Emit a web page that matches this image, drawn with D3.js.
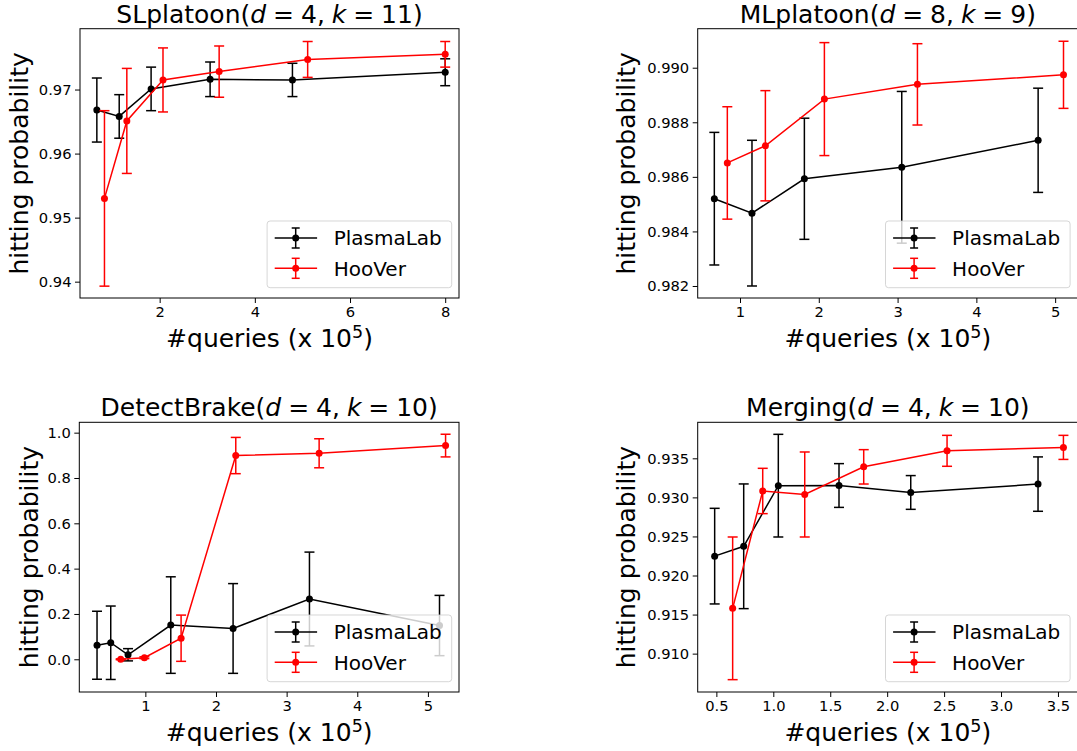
<!DOCTYPE html>
<html>
<head>
<meta charset="utf-8">
<script src="https://cdn.jsdelivr.net/npm/d3@7"></script>
<style>
  body { margin: 0; background: #fff; }
  svg { display: block; font-family: "DejaVu Sans", sans-serif; }
</style>
</head>
<body>
<svg id="chart" width="1077" height="751"></svg>
<script>
// series names / colours
const seriesNames = ['PlasmaLab', 'HooVer'];
const seriesColors = ['#000000', '#ff0000'];

// SLplatoon (d=4, k=11)
const slPlasmaQ = [0.68, 1.15, 1.82, 3.06, 4.79, 8.0];
const slPlasmaP = [0.9668, 0.9658, 0.9701, 0.9716, 0.9715, 0.9727];
const slPlasmaE = [0.0050, 0.0034, 0.0034, 0.0027, 0.0026, 0.0021];
const slHooQ = [0.84, 1.31, 2.07, 3.25, 5.11, 8.0];
const slHooP = [0.9530, 0.9651, 0.9715, 0.9728, 0.9747, 0.9755];
const slHooE = [0.0137, 0.0082, 0.0050, 0.0040, 0.0028, 0.0020];
const slXTicks = [2, 4, 6, 8];
const slYTicks = [0.94, 0.95, 0.96, 0.97];

// MLplatoon (d=8, k=9)
const mlPlasmaQ = [0.674, 1.152, 1.817, 3.053, 4.784];
const mlPlasmaP = [0.98520, 0.98467, 0.98593, 0.98635, 0.98734];
const mlPlasmaE = [0.00243, 0.00267, 0.00222, 0.00278, 0.00191];
const mlHooQ = [0.839, 1.322, 2.071, 3.252, 5.106];
const mlHooP = [0.98651, 0.98714, 0.98885, 0.98939, 0.98974];
const mlHooE = [0.00206, 0.00202, 0.00207, 0.00149, 0.00123];
const mlXTicks = [1, 2, 3, 4, 5];
const mlYTicks = [0.982, 0.984, 0.986, 0.988, 0.990];

// DetectBrake (d=4, k=10)
const dbPlasmaQ = [0.316, 0.510, 0.755, 1.36, 2.242, 3.323, 5.164];
const dbPlasmaP = [0.062, 0.073, 0.020, 0.151, 0.136, 0.266, 0.149];
const dbPlasmaE = [0.150, 0.162, 0.027, 0.213, 0.198, 0.207, 0.133];
const dbHooQ = [0.651, 0.986, 1.506, 2.28, 3.46, 5.25];
const dbHooP = [0.0, 0.007, 0.093, 0.899, 0.909, 0.943];
const dbHooE = [0.002, 0.004, 0.102, 0.080, 0.064, 0.050];
const dbXTicks = [1, 2, 3, 4, 5];
const dbYTicks = [0.0, 0.2, 0.4, 0.6, 0.8, 1.0];

// Merging (d=4, k=10)
const mgPlasmaQ = [0.485, 0.740, 1.044, 1.577, 2.207, 3.325];
const mgPlasmaP = [0.92248, 0.92374, 0.93150, 0.93152, 0.93063, 0.93170];
const mgPlasmaE = [0.00612, 0.00798, 0.00657, 0.00280, 0.00216, 0.00348];
const mgHooQ = [0.643, 0.907, 1.276, 1.794, 2.526, 3.548];
const mgHooP = [0.91580, 0.93082, 0.93037, 0.93391, 0.93596, 0.93640];
const mgHooE = [0.00913, 0.00290, 0.00544, 0.00220, 0.00198, 0.00154];
const mgXTicks = [0.5, 1.0, 1.5, 2.0, 2.5, 3.0, 3.5];
const mgYTicks = [0.910, 0.915, 0.920, 0.925, 0.930, 0.935];

const panels = [
  { name: 'SLplatoon', d: 4, k: 11, box: [80, 28.7, 459, 298],
    xDomain: [0.326, 8.29], yDomain: [0.93745, 0.9795],
    xTicks: slXTicks, yTicks: slYTicks, xFmt: 'd', yFmt: '.2f', ylabelOff: 52,
    series: [[slPlasmaQ, slPlasmaP, slPlasmaE], [slHooQ, slHooP, slHooE]] },
  { name: 'MLplatoon', d: 8, k: 9, box: [697.7, 28.7, 1078, 298],
    xDomain: [0.463, 5.29], yDomain: [0.98156, 0.99143],
    xTicks: mlXTicks, yTicks: mlYTicks, xFmt: 'd', yFmt: '.3f', ylabelOff: 62.5,
    series: [[mlPlasmaQ, mlPlasmaP, mlPlasmaE], [mlHooQ, mlHooP, mlHooE]] },
  { name: 'DetectBrake', d: 4, k: 10, box: [79.3, 422.3, 459, 692],
    xDomain: [0.065, 5.44], yDomain: [-0.1443, 1.0457],
    xTicks: dbXTicks, yTicks: dbYTicks, xFmt: 'd', yFmt: '.1f', ylabelOff: 41.5,
    series: [[dbPlasmaQ, dbPlasmaP, dbPlasmaE], [dbHooQ, dbHooP, dbHooE]] },
  { name: 'Merging', d: 4, k: 10, box: [697.7, 422.3, 1078, 692],
    xDomain: [0.336, 3.676], yDomain: [0.90509, 0.93961],
    xTicks: mgXTicks, yTicks: mgYTicks, xFmt: '.1f', yFmt: '.3f', ylabelOff: 62.5,
    series: [[mgPlasmaQ, mgPlasmaP, mgPlasmaE], [mgHooQ, mgHooP, mgHooE]] }
];

const svg = d3.select('#chart');
const tickFont = 14.7;
const labelFont = 25;
const capHalf = 5;

function drawPanel(p) {
  const [x0, y0, x1, y1] = p.box;
  const x = d3.scaleLinear().domain(p.xDomain).range([x0, x1]);
  const y = d3.scaleLinear().domain(p.yDomain).range([y1, y0]);
  const g = svg.append('g');

  // Axes
  const xAxis = g.append('g')
    .attr('transform', `translate(0,${y1})`)
    .call(d3.axisBottom(x).tickValues(p.xTicks).tickFormat(d3.format(p.xFmt))
      .tickSize(5).tickPadding(3.6));
  const yAxis = g.append('g')
    .attr('transform', `translate(${x0},0)`)
    .call(d3.axisLeft(y).tickValues(p.yTicks).tickFormat(d3.format(p.yFmt))
      .tickSize(5).tickPadding(3.5));
  [xAxis, yAxis].forEach(a => {
    a.select('.domain').remove();
    a.attr('font-family', null).attr('font-size', null);
    a.selectAll('text').style('font-size', tickFont + 'px').attr('fill', '#000');
    a.selectAll('line').attr('stroke', '#000').attr('stroke-width', 1);
  });

  // Spines
  g.append('rect')
    .attr('x', x0).attr('y', y0)
    .attr('width', x1 - x0).attr('height', y1 - y0)
    .attr('fill', 'none').attr('stroke', '#000').attr('stroke-width', 1);

  // Series with error bars
  p.series.forEach((s, i) => {
    const color = seriesColors[i];
    const pts = s[0].map((q, j) => ({ q: q, v: s[1][j], e: s[2][j] }));
    const sg = g.append('g');

    sg.selectAll('.bar').data(pts).enter().append('line')
      .attr('x1', d => x(d.q)).attr('x2', d => x(d.q))
      .attr('y1', d => y(d.v - d.e)).attr('y2', d => y(d.v + d.e))
      .attr('stroke', color).attr('stroke-width', 1.5);

    ['lo', 'hi'].forEach(side => {
      sg.selectAll('.cap-' + side).data(pts).enter().append('line')
        .attr('x1', d => x(d.q) - capHalf).attr('x2', d => x(d.q) + capHalf)
        .attr('y1', d => y(side === 'lo' ? d.v - d.e : d.v + d.e))
        .attr('y2', d => y(side === 'lo' ? d.v - d.e : d.v + d.e))
        .attr('stroke', color).attr('stroke-width', 1.5);
    });

    sg.append('path').datum(pts)
      .attr('d', d3.line().x(d => x(d.q)).y(d => y(d.v)))
      .attr('fill', 'none').attr('stroke', color).attr('stroke-width', 1.5);

    sg.selectAll('circle').data(pts).enter().append('circle')
      .attr('cx', d => x(d.q)).attr('cy', d => y(d.v))
      .attr('r', 3.5).attr('fill', color);
  });

  // Title
  const cx = (x0 + x1) / 2;
  const title = g.append('text')
    .attr('x', cx).attr('y', y0 - 6)
    .attr('text-anchor', 'middle')
    .style('font-size', labelFont + 'px')
    .style('word-spacing', '-1px');
  title.append('tspan').text(p.name + '(');
  title.append('tspan').style('font-style', 'italic').text('d');
  title.append('tspan').text(' = ' + p.d + ', ');
  title.append('tspan').style('font-style', 'italic').text('k');
  title.append('tspan').text(' = ' + p.k + ')');

  // X label
  const xl = g.append('text')
    .attr('x', cx).attr('y', y1 + 49)
    .attr('text-anchor', 'middle')
    .style('font-size', labelFont + 'px');
  xl.append('tspan').text('#queries (x 10');
  xl.append('tspan').attr('dy', -9).style('font-size', '17.5px').text('5');
  xl.append('tspan').attr('dy', 9).text(')');

  // Y label
  g.append('text')
    .attr('transform', `translate(${x0 - p.ylabelOff},${(y0 + y1) / 2}) rotate(-90)`)
    .attr('text-anchor', 'middle')
    .style('font-size', labelFont + 'px')
    .text('hitting probability');

  // Legend
  const lw = 184.6, lh = 66.7;
  const lx = Math.min(x1, 1077.7) - 7.3 - lw + (x1 > 1077 ? -0.3 : 0);
  const ly = y1 - 10.3 - lh;
  const lg = g.append('g').attr('transform', `translate(${lx},${ly})`);
  lg.append('rect')
    .attr('width', lw).attr('height', lh).attr('rx', 3)
    .attr('fill', '#fff').attr('fill-opacity', 0.8)
    .attr('stroke', '#cccccc').attr('stroke-opacity', 0.8).attr('stroke-width', 1);
  seriesNames.forEach((name, i) => {
    const ry = 17 + i * 30.3;
    const c = seriesColors[i];
    lg.append('line').attr('x1', 7.6).attr('x2', 50).attr('y1', ry).attr('y2', ry)
      .attr('stroke', c).attr('stroke-width', 1.5);
    lg.append('line').attr('x1', 28.6).attr('x2', 28.6).attr('y1', ry - 10).attr('y2', ry + 10)
      .attr('stroke', c).attr('stroke-width', 1.5);
    [-10, 10].forEach(o => {
      lg.append('line').attr('x1', 24.6).attr('x2', 32.6).attr('y1', ry + o).attr('y2', ry + o)
        .attr('stroke', c).attr('stroke-width', 1.5);
    });
    lg.append('circle').attr('cx', 28.6).attr('cy', ry).attr('r', 3.5).attr('fill', c);
    lg.append('text').attr('x', 66.6).attr('y', ry + 7.2)
      .style('font-size', '20px').attr('fill', '#000').text(name);
  });
}

panels.forEach(drawPanel);
</script>
</body>
</html>
